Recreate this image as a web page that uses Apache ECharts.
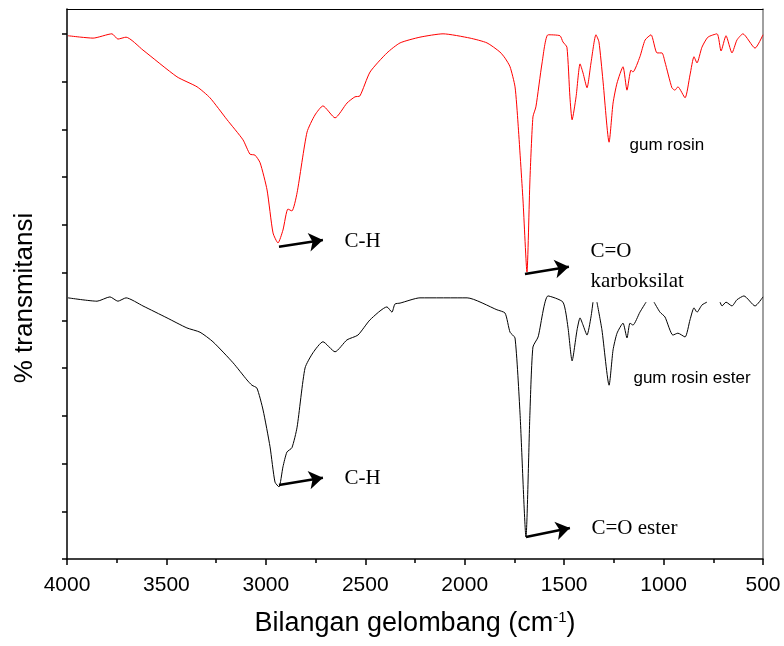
<!DOCTYPE html>
<html>
<head>
<meta charset="utf-8">
<script src="https://cdn.jsdelivr.net/npm/echarts@6/dist/echarts.min.js"></script>
<style>html,body{margin:0;padding:0;background:#fff}#c{width:784px;height:646px}</style>
</head>
<body>
<div id="c"></div>
<script>
// x: wavenumber (cm-1), y: transmittance (arbitrary units, one tick = 1)
const xTicks = [4000, 3500, 3000, 2500, 2000, 1500, 1000, 500];
const yTicks = [0,1,2,3,4,5,6,7,8,9,10,11];

const wnRosin = [3995,3930,3869,3774,3744,3703,3618,3447,3346,3281,3195,3115,3080,3055,3029,2994,2964,2939,2914,2889,2869,2843,2793,2753,2713,2652,2592,2552,2527,2476,2391,2325,2225,2109,1973,1888,1823,1797,1772,1747,1732,1707,1687,1672,1657,1642,1611,1581,1521,1506,1486,1471,1460,1440,1420,1405,1385,1365,1340,1325,1305,1274,1254,1234,1204,1184,1164,1154,1119,1093,1063,1033,1008,993,958,943,928,892,867,847,832,807,777,731,711,686,656,631,601,540,500];
const trRosin = [10.96,10.93,10.91,11.00,10.89,10.93,10.66,10.10,9.89,9.66,9.20,8.78,8.48,8.46,8.30,7.73,6.83,6.62,6.89,7.33,7.29,7.67,8.94,9.30,9.49,9.24,9.55,9.68,9.70,10.20,10.60,10.81,10.93,11.00,10.91,10.81,10.62,10.49,10.31,9.89,9.13,7.52,6.01,7.94,9.26,9.47,10.39,10.98,10.96,10.83,10.72,9.68,9.20,9.68,10.37,10.18,9.87,10.39,10.98,10.83,10.03,8.73,9.55,9.97,10.31,9.82,10.24,10.20,10.52,10.87,10.98,10.60,10.60,10.41,9.87,9.82,9.89,9.66,10.14,10.52,10.39,10.72,10.93,11.00,10.64,10.96,10.60,10.87,11.00,10.70,10.98];

const wnEster = [3995,3849,3784,3744,3703,3618,3497,3397,3331,3266,3165,3095,3070,3045,3014,2979,2954,2934,2914,2894,2869,2843,2803,2763,2713,2652,2592,2537,2476,2391,2366,2351,2325,2225,1988,1838,1797,1772,1747,1722,1692,1672,1657,1631,1581,1506,1481,1460,1435,1420,1405,1385,1365,1355,1345,1335,1310,1274,1254,1234,1204,1184,1169,1154,1119,1088,1068,1048,1018,993,953,928,892,867,847,832,807,782,750,716,706,686,656,631,596,540,500];
const trEster = [5.47,5.40,5.49,5.40,5.47,5.30,5.05,4.84,4.75,4.55,4.11,3.75,3.64,3.58,3.12,2.35,1.61,1.51,1.93,2.24,2.33,2.76,4.00,4.32,4.55,4.34,4.59,4.69,5.01,5.28,5.17,5.34,5.36,5.47,5.47,5.22,5.15,4.75,4.63,3.06,0.46,3.06,4.44,4.65,5.51,5.38,4.86,4.15,4.80,5.05,4.90,4.69,5.07,5.38,null,5.38,4.80,3.64,4.38,4.73,4.94,4.63,4.94,4.90,5.17,5.38,null,5.38,5.17,5.07,4.69,4.73,4.65,5.01,5.26,5.17,5.32,5.38,null,5.38,5.30,5.38,5.30,5.43,5.51,5.30,5.49];

// annotation arrows: [fromWn, fromTr, toWn, toTr]
const arrowsRosin = [[2934,6.54,2713,6.68],[1697,5.97,1476,6.12]];
const arrowsEster = [[2934,1.55,2713,1.70],[1692,0.46,1471,0.65]];
// annotation texts: [wn, tr, text, font]
const textsRosin = [[2607,6.66,'C-H','serif'],[1370,6.12,'C=O\nkarboksilat','serif'],[1174,8.67,'gum rosin','sans']];
const textsEster = [[2607,1.68,'C-H','serif'],[1365,0.63,'C=O ester','serif'],[1154,3.79,'gum rosin ester','sans']];

function pairs(xs, ys){ return xs.map((x,i)=>[x, ys[i]]); }
function arrowData(arr){ return arr.map(a=>[{coord:[a[0],a[1]]},{coord:[a[2],a[3]]}]); }
function textData(arr){
  return arr.map(t=>({
    coord:[t[0],t[1]],
    label:{
      show:true, position:'right', distance:0, formatter:t[2], color:'#000',
      align:'left', verticalAlign:'middle',
      fontFamily: t[3]==='serif' ? '"Liberation Serif","Times New Roman",serif' : '"Liberation Sans",Arial,sans-serif',
      fontSize: t[3]==='serif' ? 21 : 17,
      lineHeight: t[3]==='serif' ? 30 : 20
    }
  }));
}

const chart = echarts.init(document.getElementById('c'), null, {renderer:'canvas'});
const sans = '"Liberation Sans",Arial,sans-serif';
chart.setOption({
  animation:false,
  backgroundColor:'#fff',
  grid:{left:67, right:21, top:9, bottom:87, containLabel:false},
  xAxis:[{
    type:'value', min:500, max:4000, interval:500, inverse:true,
    axisLine:{show:true, onZero:false, lineStyle:{color:'#000', width:1.5}},
    axisTick:{show:true, inside:false, length:6, lineStyle:{color:'#000', width:1.5}},
    minorTick:{show:true, splitNumber:2, length:4, lineStyle:{color:'#000', width:1.5}},
    splitLine:{show:false},
    axisLabel:{show:true, margin:16, fontSize:21, color:'#000', fontFamily:sans,
      customValues:xTicks, formatter:v=>String(v)},
    name:'Bilangan gelombang (cm{sup|-1})',
    nameLocation:'middle', nameGap:51,
    nameTextStyle:{fontSize:27, color:'#000', fontFamily:sans,
      rich:{sup:{fontSize:15, verticalAlign:'top', color:'#000', fontFamily:sans, padding:[0,0,12,0]}}}
  },{
    type:'value', min:500, max:4000, inverse:true, position:'top',
    axisLine:{show:true, onZero:false, lineStyle:{color:'#000', width:1}},
    axisTick:{show:false}, axisLabel:{show:false}, splitLine:{show:false}
  }],
  yAxis:[{
    type:'value', min:0, max:11.52, interval:1,
    axisLine:{show:true, onZero:false, lineStyle:{color:'#000', width:1.5}},
    axisTick:{show:true, inside:false, length:5, customValues:yTicks, lineStyle:{color:'#000', width:1.5}},
    axisLabel:{show:false},
    splitLine:{show:false}
  },{
    type:'value', min:0, max:11.52, position:'right',
    axisLine:{show:true, onZero:false, lineStyle:{color:'#808080', width:1.5}},
    axisTick:{show:false}, axisLabel:{show:false}, splitLine:{show:false}
  }],
  graphic:[{
    type:'text', x:25, y:298, rotation:Math.PI/2,
    style:{text:'% transmitansi', fontSize:26, fontFamily:sans, fill:'#000', align:'center', verticalAlign:'middle'}
  }],
  series:[{
    name:'gum rosin', type:'line', data:pairs(wnRosin, trRosin),
    showSymbol:false, symbol:'none', smooth:0.2,
    lineStyle:{color:'#ff0000', width:1}, itemStyle:{color:'#ff0000'},
    markLine:{silent:true, symbol:['none','arrow'], symbolSize:14,
      lineStyle:{color:'#000', width:2.5, type:'solid'}, label:{show:false},
      emphasis:{disabled:true}, data:arrowData(arrowsRosin)},
    markPoint:{silent:true, symbol:'rect', symbolSize:1, itemStyle:{color:'rgba(0,0,0,0)'},
      data:textData(textsRosin)}
  },{
    name:'gum rosin ester', type:'line', data:pairs(wnEster, trEster),
    showSymbol:false, symbol:'none', smooth:0.2, connectNulls:false,
    lineStyle:{color:'#000', width:1}, itemStyle:{color:'#000'},
    markLine:{silent:true, symbol:['none','arrow'], symbolSize:14,
      lineStyle:{color:'#000', width:2.5, type:'solid'}, label:{show:false},
      emphasis:{disabled:true}, data:arrowData(arrowsEster)},
    markPoint:{silent:true, symbol:'rect', symbolSize:1, itemStyle:{color:'rgba(0,0,0,0)'},
      data:textData(textsEster)}
  }]
});
</script>
</body>
</html>
